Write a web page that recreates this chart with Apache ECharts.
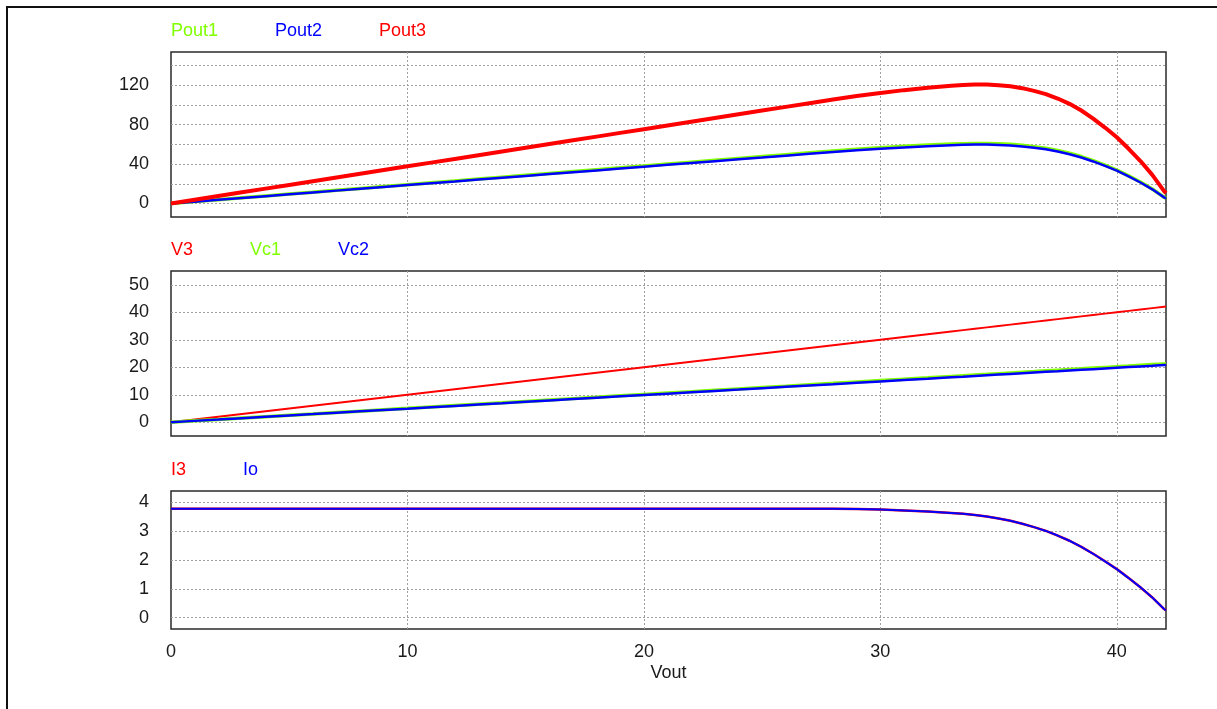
<!DOCTYPE html>
<html>
<head>
<meta charset="utf-8">
<script src="https://cdn.jsdelivr.net/npm/echarts@6/dist/echarts.min.js"></script>
<style>
  html, body { margin: 0; padding: 0; background: #fff; overflow: hidden; }
  #frame { position: absolute; left: 6px; top: 6px; width: 1300px; height: 800px; border: 2px solid #111; box-sizing: border-box; }
  #chart { position: absolute; left: 0; top: 0; width: 1217px; height: 709px; }
</style>
</head>
<body>
<div id="frame"></div>
<div id="chart"></div>
<script>
// Sweep of output voltage (V)
const vout = [0,1,2,3,4,5,6,7,8,9,10,11,12,13,14,15,16,17,18,19,20,21,22,23,24,25,26,27,28,29,30,31,32,33,
  33.5,34,34.5,35,35.5,36,36.5,37,37.5,38,38.5,39,39.5,40,40.5,41,41.5,42,42.08];

// Output powers (W)
const pout1 = [0,1.90,3.81,5.71,7.62,9.52,11.42,13.33,15.23,17.13,19.04,20.94,22.85,24.75,26.65,28.56,30.46,32.37,34.27,36.17,38.08,39.98,41.88,43.79,45.69,47.60,49.50,51.40,53.31,55.07,56.66,58.08,59.31,60.33,
  60.74,60.95,60.98,60.63,60.06,59.09,57.70,56.06,53.78,51.05,47.64,43.53,38.90,33.94,28.02,21.74,14.67,6.36,5.31];
const pout2 = [0,1.87,3.73,5.60,7.46,9.33,11.20,13.06,14.93,16.80,18.66,20.53,22.39,24.26,26.13,27.99,29.86,31.72,33.59,35.46,37.32,39.19,41.06,42.92,44.79,46.65,48.52,50.39,52.25,53.97,55.54,56.93,58.13,59.13,
  59.53,59.75,59.77,59.42,58.87,57.92,56.55,54.95,52.72,50.03,46.69,42.66,38.13,33.26,27.47,21.31,14.38,6.24,5.21];
const pout3 = [0,3.77,7.54,11.31,15.08,18.85,22.62,26.39,30.16,33.93,37.70,41.47,45.24,49.01,52.78,56.55,60.32,64.09,67.86,71.63,75.40,79.17,82.94,86.71,90.48,94.25,98.02,101.79,105.56,109.04,112.20,115.01,117.44,119.46,
  120.27,120.70,120.75,120.05,118.93,117.00,114.25,111.00,106.50,101.08,94.33,86.19,77.03,67.20,55.49,43.05,29.05,12.60,10.52];

// Voltages (V)
const v3  = [0,1,2,3,4,5,6,7,8,9,10,11,12,13,14,15,16,17,18,19,20,21,22,23,24,25,26,27,28,29,30,31,32,33,
  33.5,34,34.5,35,35.5,36,36.5,37,37.5,38,38.5,39,39.5,40,40.5,41,41.5,42,42.08];
const vc1 = [0,0.51,1.01,1.52,2.02,2.53,3.03,3.54,4.04,4.55,5.05,5.56,6.06,6.57,7.07,7.58,8.08,8.59,9.09,9.60,10.10,10.61,11.11,11.62,12.12,12.63,13.13,13.64,14.14,14.65,15.15,15.66,16.16,16.67,
  16.92,17.17,17.42,17.68,17.93,18.18,18.43,18.69,18.94,19.19,19.44,19.70,19.95,20.20,20.45,20.71,20.96,21.21,21.25];
const vc2 = [0,0.50,0.99,1.49,1.98,2.48,2.97,3.47,3.96,4.46,4.95,5.45,5.94,6.44,6.93,7.43,7.92,8.42,8.91,9.41,9.90,10.40,10.89,11.39,11.88,12.38,12.87,13.37,13.86,14.36,14.85,15.35,15.84,16.34,
  16.58,16.83,17.08,17.33,17.57,17.82,18.07,18.32,18.56,18.81,19.06,19.31,19.55,19.80,20.05,20.30,20.54,20.79,20.83];

// Currents (A)
const i3 = [3.77,3.77,3.77,3.77,3.77,3.77,3.77,3.77,3.77,3.77,3.77,3.77,3.77,3.77,3.77,3.77,3.77,3.77,3.77,3.77,3.77,3.77,3.77,3.77,3.77,3.77,3.77,3.77,3.77,3.76,3.74,3.71,3.67,3.62,
  3.59,3.55,3.50,3.43,3.35,3.25,3.13,3.00,2.84,2.66,2.45,2.21,1.95,1.68,1.37,1.05,0.70,0.30,0.25];
const io = [3.77,3.77,3.77,3.77,3.77,3.77,3.77,3.77,3.77,3.77,3.77,3.77,3.77,3.77,3.77,3.77,3.77,3.77,3.77,3.77,3.77,3.77,3.77,3.77,3.77,3.77,3.77,3.77,3.77,3.76,3.74,3.71,3.67,3.62,
  3.59,3.55,3.50,3.43,3.35,3.25,3.13,3.00,2.84,2.66,2.45,2.21,1.95,1.68,1.37,1.05,0.70,0.30,0.25];

const xTicks = [0, 10, 20, 30, 40];

const GREEN = '#80ff00', BLUE = '#0000ff', RED = '#ff0000';
const FONT = "'Liberation Sans', Arial, sans-serif";

const pairs = (ys) => vout.map((x, i) => [x, ys[i]]);

const dotted = { show: true, showMinLine: false, showMaxLine: false,
  lineStyle: { color: '#a0a0a0', type: [2, 2], width: 1 } };

function multipleOf(step) {
  return (v) => (Math.abs(v / step - Math.round(v / step)) < 1e-6 ? String(Math.round(v * 1000) / 1000) : '');
}

function xAxis(gridIndex, showLabels) {
  return {
    type: 'value', gridIndex, min: 0, max: 42.08, interval: 10,
    axisLine: { show: false }, axisTick: { show: false },
    splitLine: dotted,
    axisLabel: { show: showLabels, color: '#1a1a1a', fontSize: 18, fontFamily: FONT, margin: 14,
      showMaxLabel: false, formatter: (v) => (xTicks.indexOf(v) >= 0 ? String(v) : '') },
    name: showLabels ? 'Vout' : '', nameLocation: 'middle', nameGap: 35,
    nameTextStyle: { color: '#1a1a1a', fontSize: 18, fontFamily: FONT }
  };
}

function yAxis(gridIndex, min, max, step, labelStep) {
  return {
    type: 'value', gridIndex, min, max, minInterval: step, maxInterval: step,
    axisLine: { show: false }, axisTick: { show: false },
    splitLine: dotted,
    axisLabel: { color: '#1a1a1a', fontSize: 18, fontFamily: FONT, margin: 22,
      showMinLabel: false, showMaxLabel: false, formatter: multipleOf(labelStep) }
  };
}

function legend(top, items) {
  return {
    top, left: 166, padding: 0, icon: 'none', itemWidth: 0, itemHeight: 0, itemGap: 52,
    selectedMode: false,
    textStyle: { fontSize: 18, fontFamily: FONT },
    data: items.map(([name, color]) => ({ name, textStyle: { color } }))
  };
}

function line(name, color, width, xi, ys) {
  return { name, type: 'line', xAxisIndex: xi, yAxisIndex: xi, data: pairs(ys),
    showSymbol: false, symbol: 'none', color, lineStyle: { color, width }, emphasis: { disabled: true } };
}

const gridStyle = { show: true, borderColor: '#2a2a2a', borderWidth: 1.5, backgroundColor: '#fff' };

const option = {
  animation: false,
  backgroundColor: 'transparent',
  textStyle: { fontFamily: FONT },
  grid: [
    Object.assign({ left: 171, right: 51, top: 52, height: 165 }, gridStyle),
    Object.assign({ left: 171, right: 51, top: 271, height: 165 }, gridStyle),
    Object.assign({ left: 171, right: 51, top: 491, height: 138 }, gridStyle)
  ],
  legend: [
    legend(22, [['Pout1', GREEN], ['Pout2', BLUE], ['Pout3', RED]]),
    legend(241, [['V3', RED], ['Vc1', GREEN], ['Vc2', BLUE]]),
    legend(461, [['I3', RED], ['Io', BLUE]])
  ],
  xAxis: [xAxis(0, false), xAxis(1, false), xAxis(2, true)],
  yAxis: [
    yAxis(0, -13.7, 153.7, 20, 40),
    yAxis(1, -5, 55, 10, 10),
    yAxis(2, -0.39, 4.38, 1, 1)
  ],
  series: [
    line('Pout1', GREEN, 3.5, 0, pout1),
    line('Pout2', BLUE, 2.5, 0, pout2),
    line('Pout3', RED, 4, 0, pout3),
    line('V3', RED, 2, 1, v3),
    line('Vc1', GREEN, 3.5, 1, vc1),
    line('Vc2', BLUE, 2.5, 1, vc2),
    line('I3', RED, 2.5, 2, i3),
    line('Io', BLUE, 2, 2, io)
  ]
};

const chart = echarts.init(document.getElementById('chart'), null, { renderer: 'canvas' });
chart.setOption(option);
</script>
</body>
</html>
